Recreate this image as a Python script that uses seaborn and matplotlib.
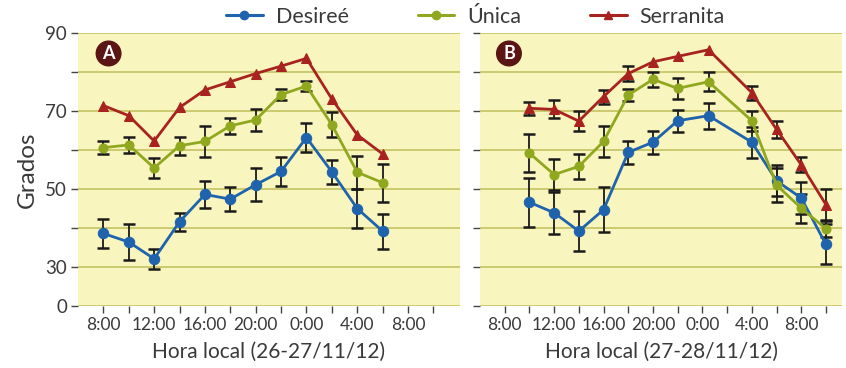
import numpy as np
import pandas as pd
import matplotlib
matplotlib.use("Agg")
import matplotlib.pyplot as plt
from matplotlib.lines import Line2D
import seaborn as sns

# Hours since 0:00 of the first day of each campaign
hours_a = [8, 10, 12, 14, 16, 18, 20, 22, 24, 26, 28, 30]
hours_b = [10, 12, 14, 16, 18, 20, 22, 24.5, 28, 30, 32, 34]

# Panel A (26-27/11/12): mean and error for each cultivar
desiree_a = [38.6, 36.4, 32.1, 41.6, 48.6, 47.4, 51.1, 54.5, 63.2, 54.4, 45.0, 39.2]
desiree_a_err = [3.7, 4.5, 2.6, 2.3, 3.5, 3.0, 4.3, 3.8, 3.8, 3.0, 5.1, 4.5]
unica_a = [60.6, 61.3, 55.4, 61.1, 62.2, 66.2, 67.7, 74.2, 76.4, 66.5, 54.3, 51.6]
unica_a_err = [1.6, 2.0, 2.5, 2.3, 3.9, 2.0, 2.8, 1.5, 1.3, 3.2, 4.2, 4.9]
serranita_a = [71.4, 68.8, 62.3, 70.9, 75.4, 77.5, 79.6, 81.5, 83.5, 73.1, 63.9, 59.0]
serranita_a_err = [np.nan] * 12

# Panel B (27-28/11/12)
desiree_b = [46.6, 43.9, 39.2, 44.7, 59.4, 62.0, 67.5, 68.8, 62.0, 52.1, 47.7, 35.8]
desiree_b_err = [6.3, 5.4, 5.1, 5.7, 3.0, 2.9, 2.8, 3.3, 4.0, 4.0, 4.0, 5.1]
unica_b = [59.2, 53.7, 55.8, 62.2, 74.1, 78.1, 75.8, 77.5, 67.5, 51.0, 45.1, 39.8]
unica_b_err = [4.9, 3.9, 3.3, 3.9, 1.6, 2.0, 2.7, 2.4, 2.5, 4.3, 3.7, 2.0]
serranita_b = [70.7, 70.4, 67.4, 73.7, 79.6, 82.6, 84.0, 85.7, 74.7, 65.3, 56.2, 46.0]
serranita_b_err = [1.7, 2.3, 2.6, 1.8, 1.9, np.nan, np.nan, np.nan, 1.8, 2.1, 1.9, 4.0]

cultivars = ["Desireé", "Única", "Serranita"]
colors = {"Desireé": "#1f63ad", "Única": "#8fa820", "Serranita": "#a8231f"}
markers = {"Desireé": "o", "Única": "o", "Serranita": "^"}
msizes = {"Desireé": 7.5, "Única": 6.5, "Serranita": 7.5}

hour_labels = ["8:00", "12:00", "16:00", "20:00", "0:00", "4:00", "8:00"]
hour_label_pos = [8, 12, 16, 20, 24, 28, 32]
y_labels = ["0", "30", "50", "70", "90"]

sns.set_theme(style="white")
plt.rcParams["font.family"] = ["Lato", "DejaVu Sans"]

BG = "#f9f5be"
GRID = "#c9c76a"
TXT = "#3a3a3a"


def build(hours, series):
    rows = []
    for name, (vals, errs) in series.items():
        for h, v, e in zip(hours, vals, errs):
            rows.append({"hora": h, "grados": v, "err": e, "cultivar": name})
    return pd.DataFrame(rows)


def draw_panel(ax, df, xlim, minor_end, letter, xlabel, show_ylabels):
    ax.set_facecolor(BG)
    # error bars underneath the series lines
    for name in cultivars:
        sub = df[(df["cultivar"] == name) & df["err"].notna()]
        if len(sub):
            ax.errorbar(sub["hora"], sub["grados"], yerr=sub["err"], fmt="none",
                        ecolor="#1a1a1a", elinewidth=1.3, capsize=4.5, capthick=1.8,
                        zorder=3)
    for name in cultivars:
        sub = df[df["cultivar"] == name]
        sns.lineplot(data=sub, x="hora", y="grados", ax=ax, color=colors[name],
                     marker=markers[name], markersize=msizes[name],
                     markeredgecolor=colors[name], linewidth=2.0,
                     legend=False, zorder=4, errorbar=None, sort=False)

    ax.set_xlim(*xlim)
    ax.set_ylim(20, 90)
    ax.set_yticks([20, 30, 50, 70, 90])
    ax.set_yticks([40, 60, 80], minor=True)
    ax.set_yticklabels(y_labels if show_ylabels else [])
    ax.set_xticks(hour_label_pos)
    ax.set_xticks(np.arange(10, minor_end + 1, 4), minor=True)
    ax.set_xticklabels(hour_labels)
    for y in [20, 30, 40, 50, 60, 70, 80, 90]:
        ax.axhline(y, color=GRID, linewidth=1.3, zorder=1)
    for s in ax.spines.values():
        s.set_visible(False)
    ax.tick_params(axis="both", which="both", direction="out", length=5,
                   width=1.0, color="#444444", labelcolor=TXT,
                   left=True, bottom=True, pad=3)
    ax.tick_params(axis="x", labelsize=12.5)
    ax.tick_params(axis="y", labelsize=13.5)
    ax.set_xlabel(xlabel, fontsize=15, color=TXT, labelpad=6)
    ax.set_ylabel("Grados" if show_ylabels else "", fontsize=17.5, color=TXT,
                  labelpad=5)
    ax.text(0.08, 0.925, letter, transform=ax.transAxes, ha="center", va="center",
            fontsize=13, fontweight="bold", color="white", zorder=6,
            bbox=dict(boxstyle="circle,pad=0.25", fc="#5c1515", ec="none"))


fig = plt.figure(figsize=(8.46, 3.68), dpi=100)
fig.patch.set_facecolor("white")
ax_a = fig.add_axes([78 / 846, 1 - 306 / 368, 382 / 846, 273 / 368])
ax_b = fig.add_axes([480 / 846, 1 - 306 / 368, 362 / 846, 273 / 368])

df_a = build(hours_a, {"Desireé": (desiree_a, desiree_a_err),
                       "Única": (unica_a, unica_a_err),
                       "Serranita": (serranita_a, serranita_a_err)})
df_b = build(hours_b, {"Desireé": (desiree_b, desiree_b_err),
                       "Única": (unica_b, unica_b_err),
                       "Serranita": (serranita_b, serranita_b_err)})

draw_panel(ax_a, df_a, (6, 36.1), 36, "A", "Hora local (26-27/11/12)", True)
draw_panel(ax_b, df_b, (6, 35.3), 34, "B", "Hora local (27-28/11/12)", False)

handles = [Line2D([0], [0], color=colors[n], marker=markers[n], markersize=6,
                  linewidth=2.2) for n in cultivars]
fig.legend(handles, cultivars, loc="center", bbox_to_anchor=(0.562, 0.955),
           ncol=3, frameon=False, fontsize=15.5, handlelength=1.7,
           columnspacing=3.2, handletextpad=0.6, labelcolor=TXT)

fig.savefig("out.png", dpi=100, facecolor="white")
